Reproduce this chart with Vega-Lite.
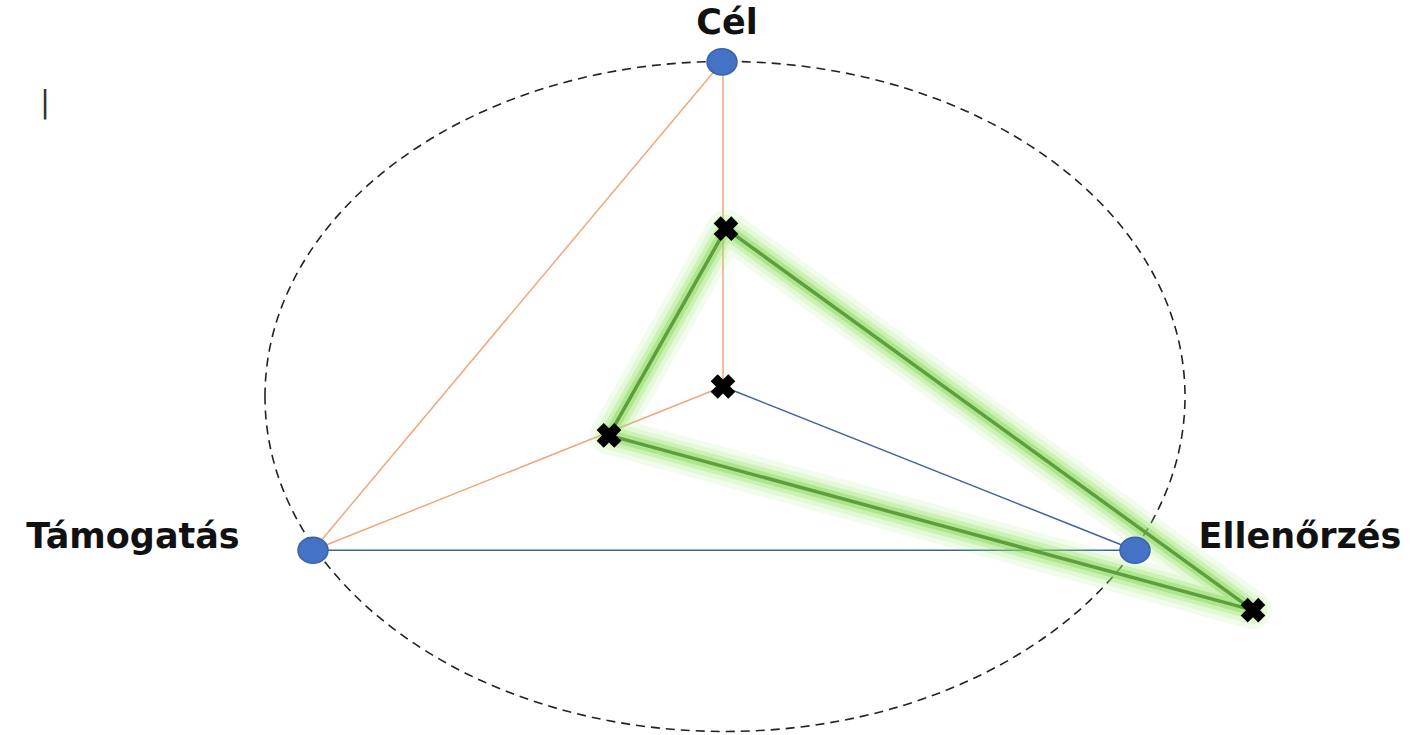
{
  "$schema": "https://vega.github.io/schema/vega-lite/v6.json",
  "autosize": {"type": "fit", "contains": "padding"},
  "width": 1415,
  "height": 735,
  "padding": 0,
  "background": "white",
  "config": {"view": {"stroke": null}},
  "datasets": {
    "ellipse": [{"x": 725, "y": 397}],
    "links": [
      {"seg": "cel-tam", "x": 722, "y": 62, "x2": 313, "y2": 551, "col": "orange"},
      {"seg": "cel-ctr", "x": 723, "y": 62, "x2": 723, "y2": 387, "col": "orange"},
      {"seg": "tam-ctr", "x": 313, "y": 551, "x2": 723, "y2": 387, "col": "orange"},
      {"seg": "tam-ell", "x": 313, "y": 551, "x2": 1135, "y2": 551, "col": "blue"},
      {"seg": "ctr-ell", "x": 723, "y": 387, "x2": 1135, "y2": 551, "col": "blue"}
    ],
    "green": [
      {"o": 1, "x": 726, "y": 229},
      {"o": 2, "x": 1253, "y": 611},
      {"o": 3, "x": 609, "y": 436},
      {"o": 4, "x": 726, "y": 229}
    ],
    "dots": [
      {"name": "Cél", "x": 722, "y": 62},
      {"name": "Támogatás", "x": 313, "y": 551},
      {"name": "Ellenőrzés", "x": 1135, "y": 551}
    ],
    "crosses": [
      {"x": 723, "y": 387},
      {"x": 726, "y": 229},
      {"x": 609, "y": 436},
      {"x": 1253, "y": 611}
    ],
    "labels": [
      {"text": "Cél", "x": 727, "y": 23},
      {"text": "Támogatás", "x": 133, "y": 538},
      {"text": "Ellenőrzés", "x": 1300, "y": 538}
    ],
    "cursor": [{"text": "|", "x": 45, "y": 103}]
  },
  "encoding": {
    "x": {"field": "x", "type": "quantitative", "scale": {"domain": [0, 1415], "nice": false, "zero": false}, "axis": null},
    "y": {"field": "y", "type": "quantitative", "scale": {"domain": [0, 735], "nice": false, "zero": false, "reverse": true}, "axis": null}
  },
  "layer": [
    {
      "data": {"name": "ellipse"},
      "mark": {"type": "point", "shape": "M -1 0 A 1 0.7283 0 1 1 1 0 A 1 0.7283 0 1 1 -1 0 Z", "size": 846400, "filled": false, "stroke": "#222222", "strokeWidth": 1.6, "strokeDash": [9, 6], "opacity": 1}
    },
    {
      "data": {"name": "links"},
      "mark": {"type": "rule", "strokeWidth": 1.5},
      "encoding": {
        "x2": {"field": "x2"},
        "y2": {"field": "y2"},
        "color": {"field": "col", "type": "nominal", "scale": {"domain": ["orange", "blue"], "range": ["#F2A77A", "#41609E"]}, "legend": null}
      }
    },
    {
      "data": {"name": "green"},
      "mark": {"type": "line", "color": "#A6EC80", "strokeWidth": 38, "opacity": 0.14, "strokeJoin": "round", "strokeCap": "round"},
      "encoding": {"order": {"field": "o", "type": "quantitative"}}
    },
    {
      "data": {"name": "green"},
      "mark": {"type": "line", "color": "#9BE870", "strokeWidth": 28, "opacity": 0.18, "strokeJoin": "round", "strokeCap": "round"},
      "encoding": {"order": {"field": "o", "type": "quantitative"}}
    },
    {
      "data": {"name": "green"},
      "mark": {"type": "line", "color": "#8FE060", "strokeWidth": 19, "opacity": 0.28, "strokeJoin": "round", "strokeCap": "round"},
      "encoding": {"order": {"field": "o", "type": "quantitative"}}
    },
    {
      "data": {"name": "green"},
      "mark": {"type": "line", "color": "#7FD850", "strokeWidth": 11, "opacity": 0.4, "strokeJoin": "round", "strokeCap": "round"},
      "encoding": {"order": {"field": "o", "type": "quantitative"}}
    },
    {
      "data": {"name": "green"},
      "mark": {"type": "line", "color": "#5E9E3E", "strokeWidth": 3.5, "strokeJoin": "round"},
      "encoding": {"order": {"field": "o", "type": "quantitative"}}
    },
    {
      "data": {"name": "dots"},
      "mark": {"type": "point", "shape": "M -1 0 A 1 0.87 0 1 1 1 0 A 1 0.87 0 1 1 -1 0 Z", "filled": true, "size": 900, "fill": "#4472C4", "stroke": "#3A62AC", "strokeWidth": 1.5, "opacity": 1}
    },
    {
      "data": {"name": "crosses"},
      "mark": {"type": "point", "shape": "cross", "angle": 45, "filled": true, "size": 620, "color": "#000000", "opacity": 1}
    },
    {
      "data": {"name": "labels"},
      "mark": {"type": "text", "font": "DejaVu Sans", "fontWeight": "bold", "fontSize": 35, "color": "#111111", "baseline": "middle", "align": "center"},
      "encoding": {"text": {"field": "text"}}
    },
    {
      "data": {"name": "cursor"},
      "mark": {"type": "text", "font": "DejaVu Sans", "fontSize": 30, "color": "#333333", "baseline": "middle", "align": "center"},
      "encoding": {"text": {"field": "text"}}
    }
  ]
}
